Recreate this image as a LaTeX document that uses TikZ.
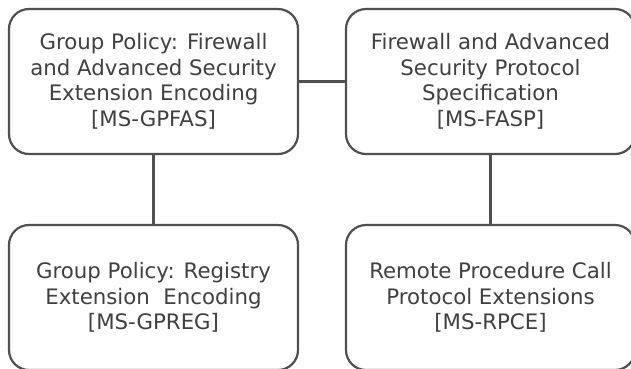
\documentclass[tikz,border=0pt]{standalone}
\usepackage{fontspec}
\setmainfont{DejaVu Sans}
\definecolor{edge}{HTML}{505050}
\definecolor{txt}{HTML}{404040}
\begin{document}
\begin{tikzpicture}[x=1pt,y=-1pt,
  specbox/.style={draw=edge, line width=2.2pt, rounded corners=20pt, fill=white,
    minimum width=289pt, minimum height=145pt, inner sep=0pt, align=center,
    text=txt, font=\fontsize{21.3}{25.5}\selectfont},
  link/.style={draw=edge, line width=2.2pt}]
\useasboundingbox (0,0) rectangle (631,368);
\clip (0,0) rectangle (631,368);
\node[specbox] (gpfas) at (153.5,81.5) {Group Policy: Firewall\\and Advanced Security\\Extension Encoding\\{[MS-GPFAS]}};
\node[specbox] (fasp) at (490.5,81.5) {Firewall and Advanced\\Security Protocol\\Specification\\{[MS-FASP]}};
\node[specbox] (gpreg) at (153.5,297.5) {Group Policy: Registry\\Extension\ \ Encoding\\{[MS-GPREG]}};
\node[specbox] (rpce) at (490.5,297.5) {Remote Procedure Call\\Protocol Extensions\\{[MS-RPCE]}};
\draw[link] (gpfas.east) -- (fasp.west);
\draw[link] (gpfas.south) -- (gpreg.north);
\draw[link] (fasp.south) -- (rpce.north);
\end{tikzpicture}
\end{document}
